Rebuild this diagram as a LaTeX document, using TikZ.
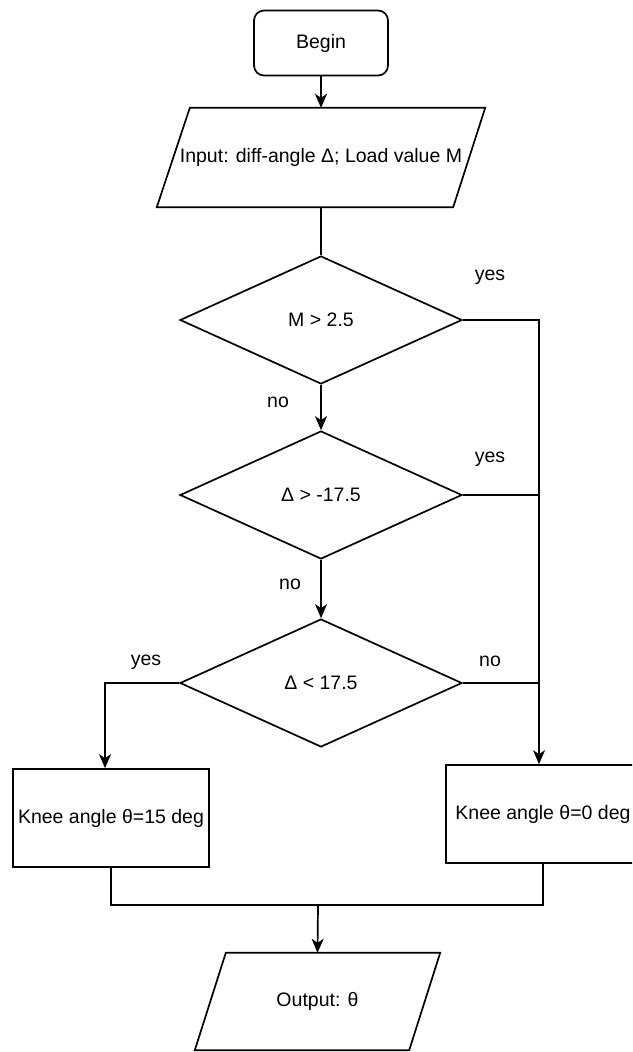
\documentclass[tikz,border=0pt]{standalone}
\usepackage{fontspec}
\setmainfont{Liberation Sans}
\usetikzlibrary{shapes.geometric,arrows.meta}
\begin{document}
\begin{tikzpicture}[x=1pt,y=-1pt,
  every node/.style={font=\fontsize{19.5}{23}\selectfont, inner sep=0pt},
  box/.style={draw, line width=1.7pt, rectangle},
  startbox/.style={box, rounded corners=10pt},
  iobox/.style={rectangle},
  outline/.style={line width=1.7pt, line join=miter},
  decision/.style={draw, line width=1.7pt, diamond, minimum width=282pt, minimum height=128pt},
  link/.style={line width=1.7pt},
  flow/.style={link, -{Stealth[length=14pt,width=12pt,inset=4pt]}},
  lbl/.style={}
]
\useasboundingbox (0,0) rectangle (632,1052);
\clip (0,0) rectangle (632,1052);

% process nodes
\node[startbox, minimum width=134pt, minimum height=65pt] (begin) at (321,43) {Begin};
\node[iobox, minimum width=328pt, minimum height=99pt] (input) at (321,157.5)
      {Input: diff-angle Δ; Load value M};
\draw[outline] ([xshift=33pt]input.north west) -- (input.north east)
      -- ([xshift=-32pt]input.south east) -- (input.south west) -- cycle;
\node[decision] (d1) at (321,320) {M > 2.5};
\node[decision] (d2) at (321,495) {Δ > -17.5};
\node[decision] (d3) at (321,683) {Δ < 17.5};
\node[box, minimum width=196pt, minimum height=98pt] (lbox) at (111,818) {Knee angle θ=15 deg};
\node[box, minimum width=194pt, minimum height=98pt] (rbox) at (543,814) {Knee angle θ=0 deg};
\node[iobox, minimum width=245pt, minimum height=97pt] (out) at (317.5,1001.5) {Output: θ};
\draw[outline] ([xshift=31pt]out.north west) -- (out.north east)
      -- ([xshift=-31pt]out.south east) -- (out.south west) -- cycle;

% routing helpers
\coordinate (jr) at (539,0);
\coordinate (jl) at (105,0);
\coordinate (merge) at (318,905);

% connectors
\draw[flow] (begin.south) -- (input.north);
\draw[link] (input.south) -- (d1.north);
\draw[flow] (d1.south) -- (d2.north);
\draw[flow] (d2.south) -- (d3.north);
\draw[flow] (d1.east) -| (jr |- rbox.north);
\draw[link] (d2.east) -- (d2.east -| jr);
\draw[link] (d3.east) -- (d3.east -| jr);
\draw[flow] (d3.west) -| (jl |- lbox.north);
\draw[link] (lbox.south) |- (merge) -| (rbox.south);
\draw[flow] (merge) -- (out.north);

% branch labels
\node[lbl] (y1) at (490,277) {yes};
\node[lbl] (n1) at (278,402) {no};
\node[lbl] (y2) at (490,459) {yes};
\node[lbl] (n2) at (290,584) {no};
\node[lbl] (y3) at (146,662) {yes};
\node[lbl] (n3) at (490,661) {no};
\end{tikzpicture}
\end{document}
